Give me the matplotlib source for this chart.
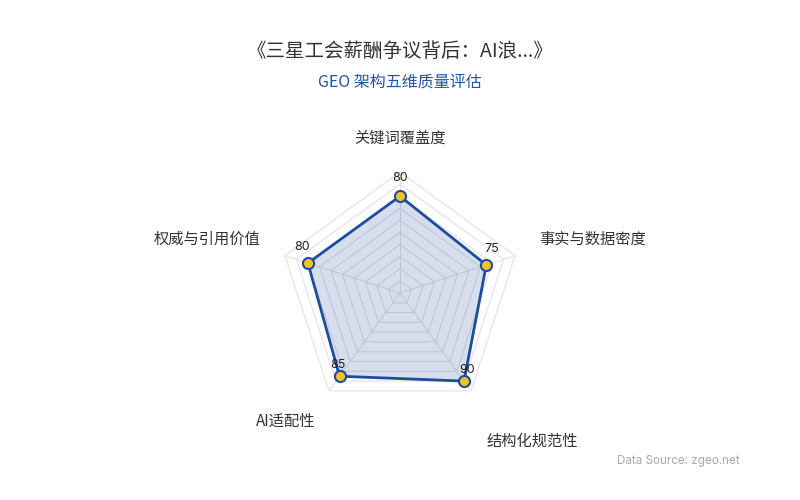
import numpy as np
import matplotlib
matplotlib.use("Agg")
import matplotlib.pyplot as plt

plt.rcParams['font.family'] = ['Noto Sans CJK SC', 'DejaVu Sans']

title = "《三星工会薪酬争议背后：AI浪...》"
subtitle = "GEO 架构五维质量评估"
source = "Data Source: zgeo.net"

dimensions = ["关键词覆盖度", "事实与数据密度", "结构化规范性", "AI适配性", "权威与引用价值"]
scores = [80, 75, 90, 85, 80]
max_score = 100
levels = [10, 20, 30, 40, 50, 60, 70, 80, 90, 100]

LINE = "#1e4c9e"
GOLD = "#f3c12c"
GRID = "#e2e2e2"

W, H = 800, 500
fig = plt.figure(figsize=(W / 100, H / 100), dpi=100)

# polar axes centred at (400, 293) px, radius 121 px
cx, cy, R = 400, 293, 121
ax = fig.add_axes([(cx - R) / W, (H - cy - R) / H, 2 * R / W, 2 * R / H], projection="polar")
ax.set_theta_offset(np.pi / 2)
ax.set_theta_direction(-1)
ax.set_ylim(0, max_score)
ax.set_xticks([])
ax.set_yticks([])
ax.grid(False)
ax.spines["polar"].set_visible(False)
ax.patch.set_visible(False)

n = len(dimensions)
theta = np.linspace(0, 2 * np.pi, n, endpoint=False)
theta_c = np.append(theta, theta[0])

for lv in levels:
    ax.plot(theta_c, [lv] * (n + 1), color=GRID, lw=0.8, zorder=1)
for t in theta:
    ax.plot([t, t], [0, max_score], color=GRID, lw=0.8, zorder=1)

vals = np.append(scores, scores[0])
ax.fill(theta_c, vals, color=LINE, alpha=0.18, lw=0, zorder=2)
ax.plot(theta_c, vals, color=LINE, lw=2.0, zorder=3, solid_joinstyle="round")
ax.plot(theta, scores, "o", ms=8, mfc=GOLD, mec=LINE, mew=1.5, zorder=4)

label_offsets = [(0, 18), (5, 16), (3, 11), (-2, 11), (-6, 16)]
for t, v, off in zip(theta, scores, label_offsets):
    ax.annotate(str(v), (t, v), xytext=off, textcoords="offset pixels",
                ha="center", va="center", fontsize=9, color="#222222",
                family=["Inter", "DejaVu Sans"], zorder=5)

# axis names, pixel positions (x, y, ha)
name_pos = [(400, 138, "center"), (539, 239, "left"), (487, 441, "left"),
            (315, 421, "right"), (261, 239, "right")]
for name, (x, y, ha) in zip(dimensions, name_pos):
    fig.text(x / W, 1 - y / H, name, ha=ha, va="center", fontsize=11, color="#333333")

fig.text(0.5, 1 - 51 / H, title, ha="center", va="center", fontsize=14, color="#333333")
fig.text(0.5, 1 - 82 / H, subtitle, ha="center", va="center", fontsize=11.5, color="#24559f")
fig.text(740 / W, 1 - 461 / H, source, ha="right", va="center", fontsize=8.4,
         color="#aaaaaa", family=["Inter", "DejaVu Sans"])

fig.savefig("out.png", dpi=100, facecolor="white")
